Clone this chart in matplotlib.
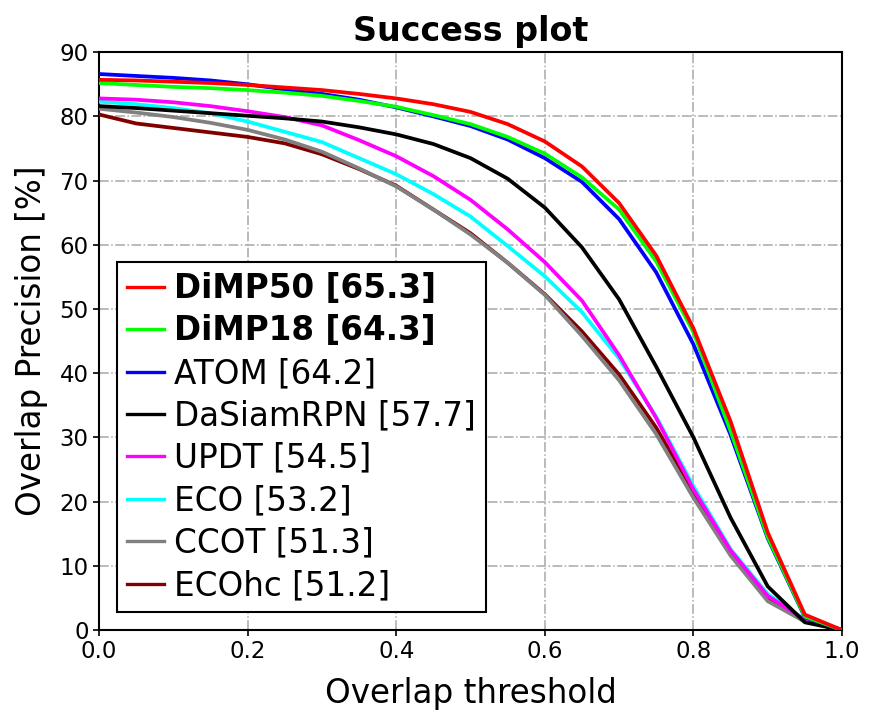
import numpy as np
import matplotlib
matplotlib.use('Agg')
import matplotlib.pyplot as plt

plt.rcParams['font.family'] = ['DejaVu Sans']

# Overlap thresholds
thresholds = np.round(np.arange(0, 1.0001, 0.05), 2)

# Success curves per tracker
dimp50 = [85.7, 85.6, 85.4, 85.2, 84.9, 84.5, 84.1, 83.5, 82.8, 81.9, 80.7,
          78.8, 76.1, 72.2, 66.5, 58.3, 47.0, 32.5, 15.2, 2.4, 0.0]
dimp18 = [85.2, 84.9, 84.6, 84.4, 84.1, 83.7, 83.2, 82.4, 81.5, 80.2, 78.8,
          76.8, 74.2, 70.5, 65.5, 57.4, 46.4, 31.0, 14.5, 2.1, 0.0]
atom = [86.6, 86.3, 86.0, 85.6, 85.0, 84.2, 83.5, 82.6, 81.4, 80.0, 78.5,
        76.4, 73.5, 69.8, 64.0, 55.7, 44.5, 30.4, 14.3, 2.0, 0.0]
dasiamrpn = [81.6, 81.3, 80.9, 80.5, 80.1, 79.7, 79.2, 78.3, 77.2, 75.7, 73.5,
             70.3, 65.8, 59.6, 51.5, 41.0, 30.0, 17.5, 6.8, 1.2, 0.0]
updt = [82.8, 82.6, 82.2, 81.6, 80.8, 79.9, 78.6, 76.3, 73.8, 70.7, 67.0,
        62.4, 57.3, 51.3, 42.8, 33.0, 21.9, 12.4, 5.3, 1.6, 0.0]
eco = [82.3, 81.9, 81.3, 80.5, 79.2, 77.6, 76.0, 73.5, 71.0, 67.9, 64.4,
       59.8, 55.1, 49.5, 42.3, 33.2, 22.4, 12.6, 5.6, 1.6, 0.0]
ccot = [81.2, 80.6, 79.9, 79.0, 77.9, 76.4, 74.5, 71.9, 69.1, 65.5, 61.6,
        57.2, 52.2, 45.8, 38.9, 30.5, 20.6, 11.6, 4.5, 1.3, 0.0]
ecohc = [80.3, 78.9, 78.2, 77.5, 76.8, 75.8, 74.1, 71.8, 69.2, 65.5, 61.8,
         57.2, 52.3, 46.5, 39.8, 31.5, 21.5, 12.0, 5.0, 1.5, 0.0]

names = ['DiMP50', 'DiMP18', 'ATOM', 'DaSiamRPN', 'UPDT', 'ECO', 'CCOT', 'ECOhc']
auc = [65.3, 64.3, 64.2, 57.7, 54.5, 53.2, 51.3, 51.2]
curves = [dimp50, dimp18, atom, dasiamrpn, updt, eco, ccot, ecohc]
colors = ['#ff0000', '#00ff00', '#0000ff', '#000000', '#ff00ff', '#00ffff',
          '#808080', '#800000']

fig = plt.figure(figsize=(8.78, 7.25), dpi=100)
ax = fig.add_axes([0.1128, 0.131, 0.8462, 0.797])

# draw lowest-ranked first so the best tracker ends up on top
for i in reversed(range(len(names))):
    ax.plot(thresholds, curves[i], color=colors[i], linewidth=2.7,
            label=f'{names[i]} [{auc[i]}]', zorder=3 + (len(names) - i) * 0.1)

ax.set_xlim(0, 1)
ax.set_ylim(0, 90)
ax.set_xticks([0.0, 0.2, 0.4, 0.6, 0.8, 1.0])
ax.set_yticks(range(0, 91, 10))
ax.tick_params(labelsize=16.5, width=1.2, length=4)
ax.grid(True, linestyle='-.', color='#a8a8a8', linewidth=1.1)
for s in ax.spines.values():
    s.set_linewidth(1.5)

ax.set_title('Success plot', fontsize=24, fontweight='bold', pad=8)
ax.set_xlabel('Overlap threshold', fontsize=23.5, labelpad=10)
ax.set_ylabel('Overlap Precision [%]', fontsize=23.5, labelpad=8)

handles, labels = ax.get_legend_handles_labels()
handles, labels = handles[::-1], labels[::-1]
leg = ax.legend(handles, labels, loc='lower left', fontsize=23.5,
                fancybox=False, edgecolor='black', framealpha=1,
                handlelength=1.15, handletextpad=0.3, labelspacing=0.29,
                borderaxespad=0.55, borderpad=0.3)
leg.get_frame().set_linewidth(1.5)
for h in leg.get_lines():
    h.set_linewidth(2.4)
for t in leg.get_texts()[:2]:
    t.set_fontweight('bold')

fig.savefig('out.png', dpi=100)
